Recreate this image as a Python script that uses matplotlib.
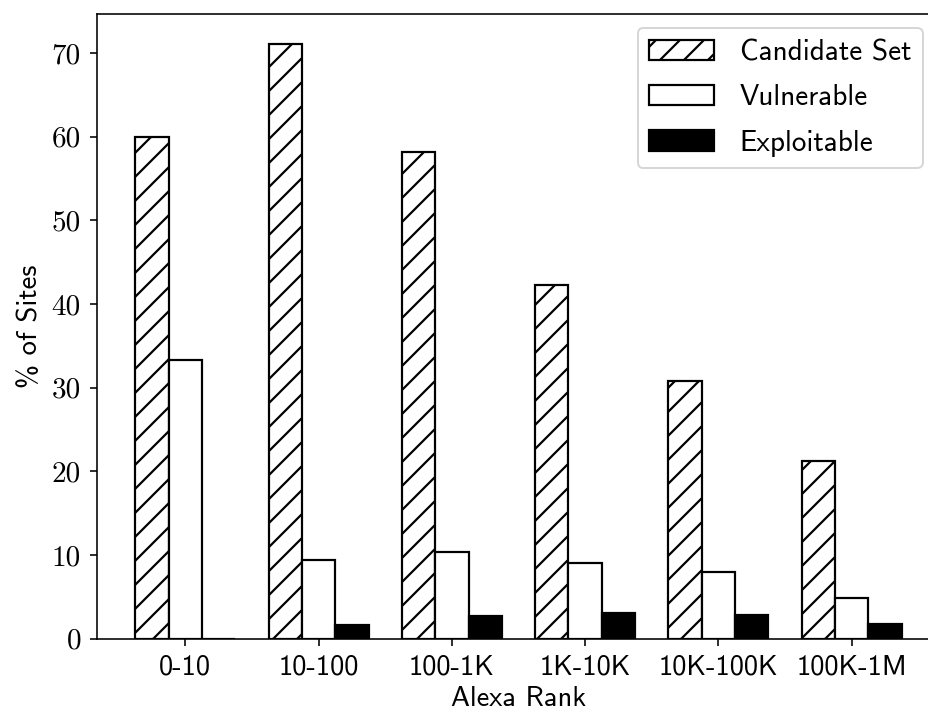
import matplotlib
matplotlib.use("Agg")
import matplotlib.pyplot as plt
import numpy as np

categories = ["0-10", "10-100", "100-1K", "1K-10K", "10K-100K", "100K-1M"]
candidate = [60.0, 71.1, 58.2, 42.3, 30.8, 21.2]
vulnerable = [33.3, 9.4, 10.3, 9.0, 8.0, 4.9]
exploitable = [0.0, 1.6, 2.7, 3.1, 2.8, 1.7]
yticks = [0, 10, 20, 30, 40, 50, 60, 70]

DPI = 144
plt.rcParams['hatch.linewidth'] = 1.1
fig = plt.figure(figsize=(928 / DPI, 713 / DPI), dpi=DPI)
ax = fig.add_axes([97 / 928, 1 - 638.5 / 713, (940 - 97) / 928, (638.5 - 14) / 713])

x = np.arange(len(categories))
w = 0.25
ax.bar(x - w, candidate, w, facecolor="white", edgecolor="black", hatch="//", linewidth=1.1, label="Candidate Set")
ax.bar(x, vulnerable, w, facecolor="white", edgecolor="black", linewidth=1.1, label="Vulnerable")
ax.bar(x + w, exploitable, w, facecolor="black", edgecolor="black", linewidth=1.1, label="Exploitable")

ax.set_xticks(x)
ax.set_xticklabels(categories, fontname="cmss10", fontsize=14.2)
ax.set_yticks(yticks)
ax.set_yticklabels([str(v) for v in yticks], fontname="cmr10", fontsize=14.6)
ax.tick_params(axis="y", pad=4.5)
ax.tick_params(axis="x", pad=4.5)
ax.set_xlabel("Alexa Rank", fontname="cmss10", fontsize=14.2, labelpad=3.5)
ax.set_ylabel("% of Sites", fontname="cmss10", fontsize=14.4, labelpad=5)

leg = ax.legend(loc="upper right", bbox_to_anchor=(923 / 928, 1 - 27.7 / 713),
                bbox_transform=fig.transFigure, borderaxespad=0,
                handlelength=2.2, labelspacing=0.62, handletextpad=0.9,
                prop={"family": "cmss10", "size": 14.6})

fig.savefig("out.png", dpi=DPI)
